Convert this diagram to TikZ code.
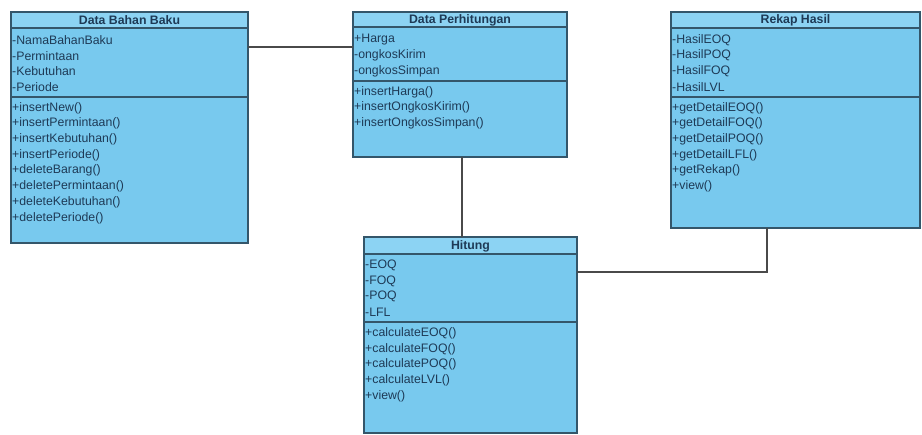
\documentclass[tikz,border=0pt]{standalone}
\usepackage{fontspec}
\setmainfont{Liberation Sans}
\definecolor{classfill}{HTML}{78C9EE}
\definecolor{titlefill}{HTML}{8CD3F3}
\definecolor{classline}{HTML}{34566A}
\definecolor{classtext}{HTML}{1E3A56}
\definecolor{linkline}{HTML}{4A4A4A}
\tikzset{
  classbox/.style={fill=classfill, anchor=north west, inner sep=0pt, outer sep=0pt},
  classborder/.style={draw=classline, line width=1.3pt},
  titlebar/.style={fill=titlefill},
  sepline/.style={draw=classline, line width=1.6pt},
  member/.style={anchor=west, inner sep=0pt, text=classtext, font=\fontsize{12.3}{14}\selectfont},
  classtitle/.style={inner sep=0pt, text=classtext, font=\bfseries\fontsize{12.3}{14}\selectfont},
  assoc/.style={draw=linkline, line width=1.2pt},
}
\begin{document}
\begin{tikzpicture}[x=1pt,y=-1pt]
\useasboundingbox[fill=white] (0,0) rectangle (922,435);

% ---------- Data Bahan Baku ----------
\node[classbox, minimum width=237pt, minimum height=231pt] (bahan) at (11,12) {};
\fill[titlebar] (bahan.north west) rectangle (248,28);
\draw[sepline] (11,28) -- (248,28);
\draw[sepline] (11,97) -- (248,97);
\draw[classborder] (bahan.north west) rectangle (bahan.south east);
\node[classtitle] (bahan-t) at (129.5,20.5) {Data Bahan Baku};
\foreach \t [count=\i] in {-NamaBahanBaku,-Permintaan,-Kebutuhan,-Periode}
  \node[member] (bahan-a\i) at (12,{40+15.7*(\i-1)}) {\t};
\foreach \t [count=\i] in {+insertNew(),+insertPermintaan(),+insertKebutuhan(),+insertPeriode(),+deleteBarang(),+deletePermintaan(),+deleteKebutuhan(),+deletePeriode()}
  \node[member] (bahan-m\i) at (12,{108+15.7*(\i-1)}) {\t};

% ---------- Data Perhitungan ----------
\node[classbox, minimum width=214pt, minimum height=145pt] (perhit) at (353,12) {};
\fill[titlebar] (perhit.north west) rectangle (567,27);
\draw[sepline] (353,27) -- (567,27);
\draw[sepline] (353,81) -- (567,81);
\draw[classborder] (perhit.north west) rectangle (perhit.south east);
\node[classtitle] (perhit-t) at (460,20) {Data Perhitungan};
\foreach \t [count=\i] in {+Harga,-ongkosKirim,-ongkosSimpan}
  \node[member] (perhit-a\i) at (354,{40+15.7*(\i-1)}) {\t};
\foreach \t [count=\i] in {+insertHarga(),+insertOngkosKirim(),+insertOngkosSimpan()}
  \node[member] (perhit-m\i) at (354,{92+15.5*(\i-1)}) {\t};

% ---------- Rekap Hasil ----------
\node[classbox, minimum width=249pt, minimum height=216pt] (rekap) at (671,12) {};
\fill[titlebar] (rekap.north west) rectangle (920,28);
\draw[sepline] (671,28) -- (920,28);
\draw[sepline] (671,97) -- (920,97);
\draw[classborder] (rekap.north west) rectangle (rekap.south east);
\node[classtitle] (rekap-t) at (795.5,20.5) {Rekap Hasil};
\foreach \t [count=\i] in {-HasilEOQ,-HasilPOQ,-HasilFOQ,-HasilLVL}
  \node[member] (rekap-a\i) at (672,{40+15.7*(\i-1)}) {\t};
\foreach \t [count=\i] in {+getDetailEOQ(),+getDetailFOQ(),+getDetailPOQ(),+getDetailLFL(),+getRekap(),+view()}
  \node[member] (rekap-m\i) at (672,{108+15.7*(\i-1)}) {\t};

% ---------- Hitung ----------
\node[classbox, minimum width=213pt, minimum height=196pt] (hitung) at (364,237) {};
\fill[titlebar] (hitung.north west) rectangle (577,254);
\draw[sepline] (364,254) -- (577,254);
\draw[sepline] (364,322) -- (577,322);
\draw[classborder] (hitung.north west) rectangle (hitung.south east);
\node[classtitle] (hitung-t) at (470.5,246) {Hitung};
\foreach \t [count=\i] in {-EOQ,-FOQ,-POQ,-LFL}
  \node[member] (hitung-a\i) at (365,{265+15.9*(\i-1)}) {\t};
\foreach \t [count=\i] in {+calculateEOQ(),+calculateFOQ(),+calculatePOQ(),+calculateLVL(),+view()}
  \node[member] (hitung-m\i) at (365,{333+15.9*(\i-1)}) {\t};

% ---------- associations ----------
\draw[assoc] ([yshift=-35pt]bahan.north east) -- ([yshift=-35pt]perhit.north west);
\draw[assoc] ([xshift=2pt]perhit.south) -- ([xshift=2pt]perhit.south |- hitung.north);
\draw[assoc] ([yshift=-35pt]hitung.north east) -| ([xshift=-28.5pt]rekap.south);
\end{tikzpicture}
\end{document}
